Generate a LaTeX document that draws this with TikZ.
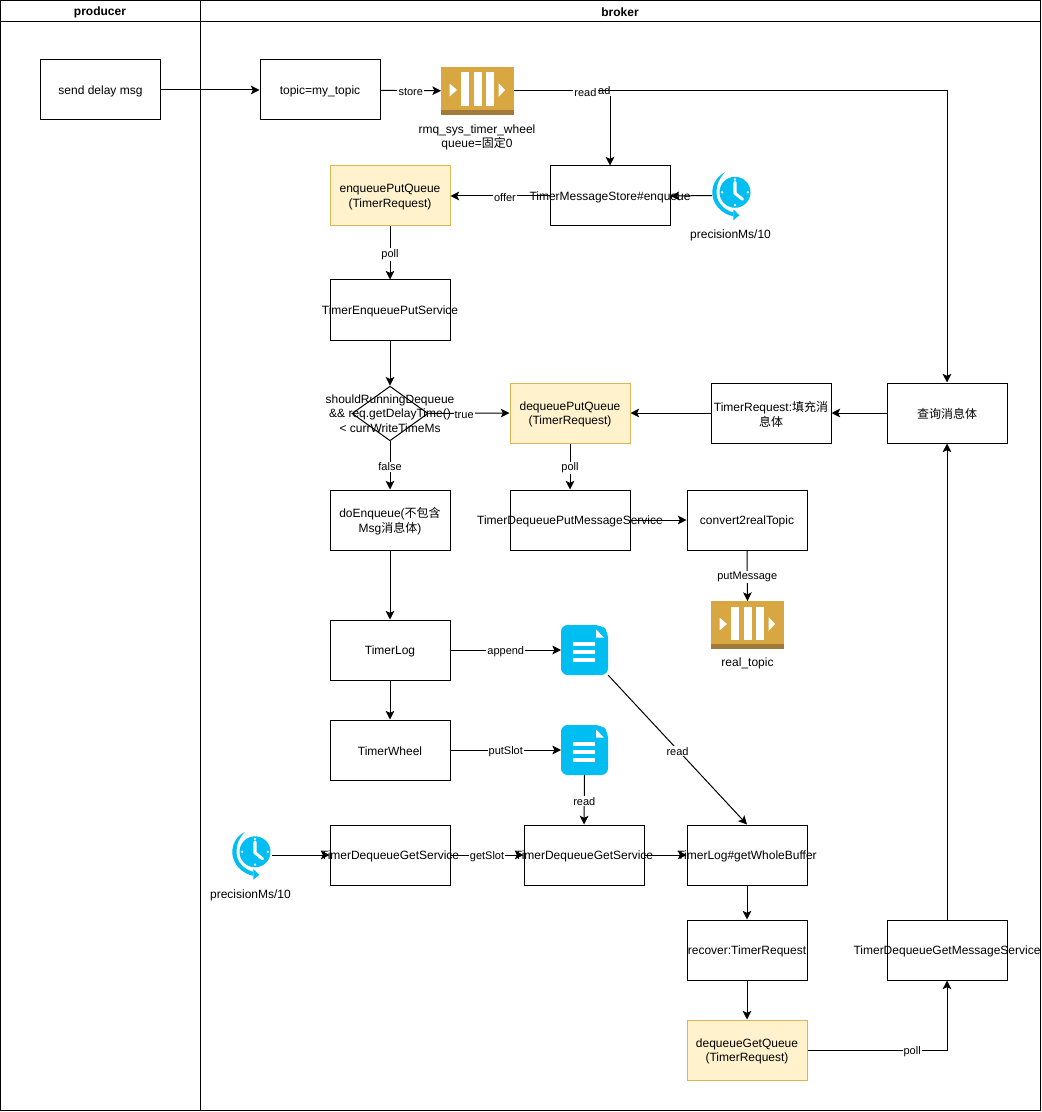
\documentclass[tikz,border=0pt]{standalone}
\usepackage{fontspec}
\setmainfont{Liberation Sans}
\newfontfamily\cjk{Noto Sans CJK SC}
\usetikzlibrary{arrows.meta,shapes.geometric}
\definecolor{hiFill}{HTML}{FFF2CC}
\definecolor{hiLine}{HTML}{D6B656}
\definecolor{queueBody}{HTML}{D9A741}
\definecolor{queueBase}{HTML}{A1793A}
\definecolor{iconBlue}{HTML}{00BEF2}
% zero-width lines, so long names may run past their box
\newcommand{\ov}[1]{\makebox[0pt][c]{\raisebox{-1pt}[\height][\depth]{#1}}}
\newcommand{\ovd}[1]{\makebox[0pt][c]{#1}}
\tikzset{
  boxnode/.style={draw=black,fill=white,line width=.75pt,minimum width=90pt,minimum height=45pt,inner sep=0pt,
    align=center,font=\fontsize{9}{11}\selectfont},
  hibox/.style={boxnode,fill=hiFill,draw=hiLine},
  decision/.style={draw=black,fill=white,line width=.75pt,diamond,shape aspect=1.4,minimum width=57pt,minimum height=41pt,
    inner sep=0pt,align=center,font=\fontsize{9}{11}\selectfont},
  heading/.style={font=\fontsize{9}{11}\selectfont\bfseries,inner sep=0pt},
  caption/.style={font=\fontsize{9}{11}\selectfont,align=center,inner sep=0pt},
  lbl/.style={font=\fontsize{8.25}{10}\selectfont,fill=white,inner sep=.8pt,yshift=-1pt},
  link/.style={line width=.75pt,-{Stealth[length=6.5pt,width=6.5pt,inset=1.5pt]}},
  holder/.style={inner sep=0pt,minimum width=#1,outer sep=0pt},
}
% message queue symbol, 73 by 48 units
\newcommand{\queueicon}[1]{%
  \begin{scope}[shift={(#1)}]
    \fill[queueBody] (-36.5,-24) rectangle (36.5,24);
    \fill[queueBase] (-36.5,19) rectangle (36.5,24);
    \fill[white] (-16.5,-18.5) rectangle (-8.5,15);
    \fill[white] (-4,-18.5) rectangle (4,15);
    \fill[white] (8.5,-18.5) rectangle (16.5,15);
    \fill[white] (-28,-7.5) -- (-20.5,-1) -- (-28,5.5) -- cycle;
    \fill[white] (21,-8) -- (27.5,-1) -- (21,6) -- cycle;
  \end{scope}}
% document symbol, 47 by 50 units
\newcommand{\docicon}[1]{%
  \begin{scope}[shift={(#1)}]
    \fill[iconBlue,rounded corners=5] (-23.5,-25) -- (17,-25) -- (23.5,-18.5) -- (23.5,25) -- (-23.5,25) -- cycle;
    \fill[white] (11.5,-20.7) -- (19.5,-12.3) -- (11.5,-12.3) -- cycle;
    \fill[white] (-11.5,-8.3) rectangle (10.5,-4.3);
    \fill[white] (-11.5,0) rectangle (10.5,3.7);
    \fill[white] (-11.5,7.7) rectangle (10.5,11.7);
  \end{scope}}
% clock with a circular arrow
\newcommand{\clockicon}[1]{%
  \begin{scope}[shift={(#1)}]
    \begin{scope}[shift={(3,-3.2)}]
      \fill[iconBlue] (0,0) circle[radius=15.5];
      \draw[white,line width=2.3pt,line cap=round,line join=round] (0,-10) -- (0,1) -- (7.5,7);
      \fill[white] (0,-12.8) circle[radius=1.3] (12.8,0) circle[radius=1.3] (0,12.8) circle[radius=1.3] (-12.8,0) circle[radius=1.3];
      \fill[iconBlue] (-10,-20) .. controls (-18,-16) and (-23,-8) .. (-22.7,1)
        .. controls (-22.4,12) and (-13,22) .. (-1.7,24) -- (-1.7,20)
        .. controls (-11,18) and (-18.2,10) .. (-18.5,1)
        .. controls (-18.5,-8) and (-16,-14) .. cycle;
      \fill[iconBlue] (-1.7,17) -- (4.3,23) -- (-1.7,28) -- cycle;
    \end{scope}
  \end{scope}}
\begin{document}
\begin{tikzpicture}[x=.75pt,y=-.75pt]
\useasboundingbox (0,0) rectangle (1041,1112);
\fill[white] (0,0) rectangle (1041,1112);

% swimlane frame
\draw[line width=.75pt] (.5,.5) rectangle (1040,1110.5);
\draw[line width=.75pt] (.5,22) -- (1040,22);
\draw[line width=.75pt] (200.5,.5) -- (200.5,1110.5);
\node[heading] (headProducer) at (100,12.5) {producer};
\node[heading] (headBroker) at (620,12.5) {broker};

% process boxes
\node[boxnode] (send) at (100.5,90) {\ov{send delay msg}};
\node[boxnode] (topic) at (320,90) {\ov{topic=my\_topic}};
\node[boxnode] (enq) at (610,196) {\ov{TimerMessageStore\#enqueue}};
\node[hibox] (epq) at (390,196) {\ov{enqueuePutQueue}\\\ov{(TimerRequest)}};
\node[boxnode] (eps) at (390,310) {\ov{TimerEnqueuePutService}};
\node[boxnode] (doenq) at (390,520) {\ov{doEnqueue({\cjk 不包含}}\\\ov{Msg{\cjk 消息体})}};
\node[boxnode] (tlog) at (390,650) {\ov{TimerLog}};
\node[boxnode] (twheel) at (390,750) {\ov{TimerWheel}};
\node[hibox] (dpq) at (570,413) {\ov{dequeuePutQueue}\\\ov{(TimerRequest)}};
\node[boxnode] (fill) at (771,413) {\ov{TimerRequest:{\cjk 填充消}}\\\ov{{\cjk 息体}}};
\node[boxnode] (query) at (947,413) {\ov{{\cjk 查询消息体}}};
\node[boxnode] (dpms) at (570,520) {\ov{TimerDequeuePutMessageService}};
\node[boxnode] (conv) at (747,520) {\ov{convert2realTopic}};
\node[boxnode] (dgsA) at (390,855) {\ov{TimerDequeueGetService}};
\node[boxnode] (dgsB) at (584,855) {\ov{TimerDequeueGetService}};
\node[boxnode] (buffer) at (747,855) {\ov{TimerLog\#getWholeBuffer}};
\node[boxnode] (recover) at (747,950) {\ov{recover:TimerRequest}};
\node[hibox] (dgq) at (747,1050) {\ov{dequeueGetQueue}\\\ov{(TimerRequest)}};
\node[boxnode] (dgms) at (947,950) {\ov{TimerDequeueGetMessageService}};

% condition
\node[decision] (cond) at (390,413.5) {\ovd{shouldRunningDequeue}\\\ovd{\&\& req.getDelayTime()}\\\ovd{< currWriteTimeMs}};

% icons, each with an invisible holder for its connectors
\node[holder=54.75pt,minimum height=36pt] (sysq) at (477.5,91) {};
\queueicon{477.5,91}
\node[caption] (sysqText) at (477,137.5) {rmq\_sys\_timer\_wheel\\queue={\cjk 固定}0};
\node[holder=54.75pt,minimum height=36pt] (realq) at (747.5,625) {};
\queueicon{747.5,625}
\node[caption] (realqText) at (747.5,663) {real\_topic};
\node[holder=30pt,minimum height=37.5pt] (clockA) at (732,195.5) {};
\clockicon{732,195.5}
\node[caption] (clockAText) at (730.5,235) {precisionMs/10};
\node[holder=30pt,minimum height=37.5pt] (clockB) at (252,855) {};
\clockicon{252,855}
\node[caption] (clockBText) at (250.5,895) {precisionMs/10};
\node[holder=35.25pt,minimum height=37.5pt] (docA) at (584.5,650) {};
\docicon{584.5,650}
\node[holder=35.25pt,minimum height=37.5pt] (docB) at (584.5,750) {};
\docicon{584.5,750}

% connectors
\draw[link] (send) -- (topic);
\draw[link] (topic) -- node[lbl] (lblStore) {store} (sysq);
\draw[link] (sysq.east) -| node[lbl,pos=.445,yshift=1pt] (lblReadA) {read} (enq.north);
\draw[link] (sysq.east) -| node[lbl,pos=.0825,yshift=-.5pt] (lblReadB) {read} (query.north);
\draw[link] (clockA.west) -- (enq.east);
\draw[link] (enq) -- node[lbl,pos=.45] (lblOffer) {offer} (epq);
\draw[link] (epq) -- node[lbl] (lblPollA) {poll} (eps);
\draw[link] (eps) -- (cond);
\draw[link] (cond.east) -- node[lbl,pos=.44] (lblTrue) {true} (dpq.west);
\draw[link] (cond.south) -- node[lbl] (lblFalse) {false} (doenq.north);
\draw[link] (doenq) -- (tlog);
\draw[link] (tlog) -- (twheel);
\draw[link] (tlog) -- node[lbl] (lblAppend) {append} (docA);
\draw[link] (twheel) -- node[lbl] (lblSlot) {putSlot} (docB);
\draw[link] (docB.south) -- node[lbl] (lblReadC) {read} (dgsB.north);
\draw[link] (docA.south east) -- node[lbl] (lblReadD) {read} (buffer.north);
\draw[link] (clockB.east) -- (dgsA.west);
\draw[link] (dgsA) -- node[lbl] (lblGetSlot) {getSlot} (dgsB);
\draw[link] (dgsB) -- (buffer);
\draw[link] (buffer) -- (recover);
\draw[link] (recover) -- (dgq);
\draw[link] (dgq.east) -| node[lbl,pos=.375] (lblPollB) {poll} (dgms.south);
\draw[link] (dgms) -- (query);
\draw[link] (query) -- (fill);
\draw[link] (fill) -- (dpq);
\draw[link] (dpq) -- node[lbl] (lblPollC) {poll} (dpms);
\draw[link] (dpms) -- (conv);
\draw[link] (conv.south) -- node[lbl] (lblPut) {putMessage} (realq.north);
\end{tikzpicture}
\end{document}
